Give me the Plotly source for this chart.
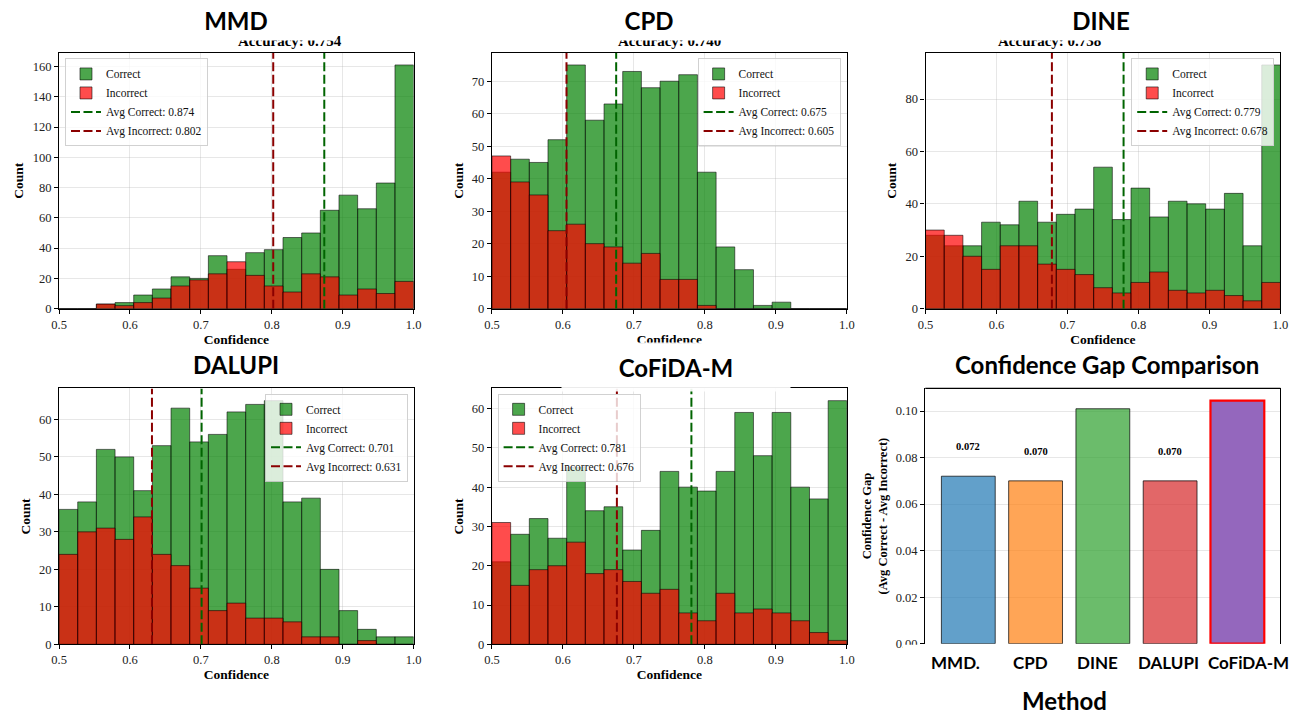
import numpy as np
import plotly.graph_objects as go

W, H = 1299, 717

# ---------------- data ----------------
methods = ["MMD", "CPD", "DINE", "DALUPI", "CoFiDA-M"]
accuracy = [0.754, 0.740, 0.738, None, None]

correct_mmd = [0, 0, 3, 4, 9, 13, 21, 20, 35, 26, 37, 39, 47, 50, 65, 75, 66, 83, 161]
incorrect_mmd = [0, 0, 3, 2, 4, 7, 15, 19, 23, 31, 22, 15, 11, 23, 21, 9, 13, 10, 18]

correct_cpd = [42, 46, 45, 52, 75, 58, 63, 73, 68, 70, 72, 42, 19, 12, 1, 2, 0, 0, 0]
incorrect_cpd = [47, 39, 35, 24, 26, 20, 19, 14, 17, 9, 9, 1, 0, 0, 0, 0, 0, 0, 0]

correct_dine = [28, 24, 24, 33, 32, 41, 33, 36, 38, 54, 34, 46, 35, 41, 40, 38, 44, 24, 93]
incorrect_dine = [30, 28, 20, 15, 24, 24, 17, 15, 13, 8, 6, 10, 14, 7, 6, 7, 5, 3, 10]

correct_dalupi = [36, 38, 52, 50, 41, 53, 63, 54, 56, 62, 64, 65, 38, 39, 20, 9, 4, 2, 2]
incorrect_dalupi = [24, 30, 31, 28, 34, 24, 21, 15, 9, 11, 7, 7, 6, 2, 2, 0, 1, 0, 0]

correct_cofida = [21, 28, 32, 27, 45, 34, 35, 24, 29, 44, 40, 39, 44, 59, 48, 59, 40, 37, 62]
incorrect_cofida = [31, 15, 19, 20, 26, 18, 19, 16, 13, 14, 8, 6, 13, 8, 9, 8, 6, 3, 1]

correct_counts = [correct_mmd, correct_cpd, correct_dine, correct_dalupi, correct_cofida]
incorrect_counts = [incorrect_mmd, incorrect_cpd, incorrect_dine, incorrect_dalupi, incorrect_cofida]

avg_correct = [0.874, 0.675, 0.779, 0.701, 0.781]
avg_incorrect = [0.802, 0.605, 0.678, 0.631, 0.676]

gap_labels = ["MMD.", "CPD", "DINE", "DALUPI", "CoFiDA-M"]
gap_values = [0.072, 0.070, 0.101, 0.070, 0.1045]

n_bins = 19
bin_lo, bin_hi = 0.5, 1.0

# ---------------- styling ----------------
SERIF = "Times New Roman, Liberation Serif, serif"
SANS = "Lato"
GREEN = "rgba(0,128,0,0.7)"
RED = "rgba(255,0,0,0.7)"
EDGE = "rgba(0,0,0,0.7)"
GRID = "rgba(176,176,176,0.3)"
TICKSIZE = 12.5

def px(x):
    return x / W

def py(y):
    return 1 - y / H

# subplot pixel boxes (left, right, top, bottom)
boxes = [
    (51.7, 410.7, 53.3, 311.7),
    (490.0, 849.3, 53.3, 311.7),
    (929.0, 1288.3, 53.3, 311.7),
    (51.7, 410.7, 392.3, 650.7),
    (490.0, 849.3, 392.3, 650.7),
    (928.7, 1288.3, 392.3, 650.0),
]
legend_pos = [
    dict(x=px(57.7), y=py(59), xanchor="left", yanchor="top"),
    dict(x=px(843), y=py(59), xanchor="right", yanchor="top"),
    dict(x=px(1282), y=py(59), xanchor="right", yanchor="top"),
    dict(x=px(405), y=py(397.7), xanchor="right", yanchor="top"),
    dict(x=px(495.7), y=py(397.7), xanchor="left", yanchor="top"),
]
ytick_step = [20, 10, 20, 10, 10]

edges = np.linspace(bin_lo, bin_hi, n_bins + 1)
centers = (edges[:-1] + edges[1:]) / 2
bw = edges[1] - edges[0]

fig = go.Figure()
layout = dict(
    width=W, height=H, margin=dict(l=0, r=0, t=0, b=0),
    paper_bgcolor="white", plot_bgcolor="white",
    barmode="overlay", showlegend=True,
    font=dict(family=SERIF, size=11, color="#111"),
)

annotations = []
shapes = []

for i, m in enumerate(methods):
    k = i + 1
    xs = "" if k == 1 else str(k)
    xref, yref = "x" + xs, "y" + xs
    lg = "legend" + ("" if k == 1 else str(k))
    l, r, t, b = boxes[i]
    ytop = 1.05 * max(max(correct_counts[i]), max(incorrect_counts[i]))

    fig.add_trace(go.Bar(
        x=centers, y=correct_counts[i], width=bw, name="Correct",
        marker=dict(color=GREEN, line=dict(color=EDGE, width=0.8)),
        xaxis=xref, yaxis=yref, legend=lg, hoverinfo="x+y"))
    fig.add_trace(go.Bar(
        x=centers, y=incorrect_counts[i], width=bw, name="Incorrect",
        marker=dict(color=RED, line=dict(color=EDGE, width=0.8)),
        xaxis=xref, yaxis=yref, legend=lg, hoverinfo="x+y"))
    fig.add_trace(go.Scatter(
        x=[avg_correct[i], avg_correct[i]], y=[0, ytop], mode="lines",
        name=f"Avg Correct: {avg_correct[i]:.3f}",
        line=dict(color="darkgreen", width=2, dash="9px,3.5px"),
        xaxis=xref, yaxis=yref, legend=lg))
    fig.add_trace(go.Scatter(
        x=[avg_incorrect[i], avg_incorrect[i]], y=[0, ytop], mode="lines",
        name=f"Avg Incorrect: {avg_incorrect[i]:.3f}",
        line=dict(color="darkred", width=2, dash="9px,3.5px"),
        xaxis=xref, yaxis=yref, legend=lg))

    layout["xaxis" + xs] = dict(
        domain=[px(l), px(r)], anchor=yref, range=[bin_lo, bin_hi],
        tickvals=[0.5, 0.6, 0.7, 0.8, 0.9, 1.0], tickformat=".1f",
        ticks="outside", ticklen=4, tickwidth=1, tickcolor="black",
        showline=True, linecolor="black", linewidth=1.3, mirror=True,
        showgrid=True, gridcolor=GRID, gridwidth=1, zeroline=False,
        tickfont=dict(family=SERIF, size=TICKSIZE, color="#222", weight="normal"),
        title=dict(text="<b>Confidence</b>", font=dict(family=SERIF, size=13.5, color="black"), standoff=2),
    )
    layout["yaxis" + xs] = dict(
        domain=[py(b), py(t)], anchor=xref, range=[0, ytop], dtick=ytick_step[i],
        ticks="outside", ticklen=4, tickwidth=1, tickcolor="black",
        showline=True, linecolor="black", linewidth=1.3, mirror=True,
        showgrid=True, gridcolor=GRID, gridwidth=1, zeroline=False,
        tickfont=dict(family=SERIF, size=TICKSIZE, color="#222", weight="normal"),
        title=dict(text="<b>Count</b>", font=dict(family=SERIF, size=13.5, color="black"), standoff=5),
    )
    layout[lg] = dict(
        **legend_pos[i],
        bgcolor="rgba(255,255,255,0.8)", bordercolor="rgba(204,204,204,0.9)", borderwidth=1,
        font=dict(family=SERIF, size=11.5, color="#111"),
        tracegroupgap=0, itemwidth=30, itemclick=False,
    )

# ---------------- confidence gap bar chart ----------------
gap_colors = ["rgba(31,119,180,0.7)", "rgba(255,127,14,0.7)", "rgba(44,160,44,0.7)",
              "rgba(214,39,40,0.7)", "rgba(148,103,189,1.0)"]
gap_edge = ["rgba(0,0,0,0.7)"] * 4 + ["rgb(255,0,0)"]
gap_edge_w = [1, 1, 1, 1, 2.2]
gap_ytop = 1.05 * max(gap_values)

fig.add_trace(go.Bar(
    x=gap_labels, y=gap_values, width=0.8, showlegend=False,
    marker=dict(color=gap_colors, line=dict(color=gap_edge, width=gap_edge_w)),
    xaxis="x6", yaxis="y6"))

l, r, t, b = boxes[5]
layout["xaxis6"] = dict(
    domain=[px(l), px(r)], anchor="y6", range=[-0.64, 4.64],
    showticklabels=False, ticks="", showline=False, showgrid=False, zeroline=False,
)
layout["yaxis6"] = dict(
    domain=[py(b), py(t)], anchor="x6", range=[0, gap_ytop], dtick=0.02, tickformat=".2f",
    ticks="outside", ticklen=4, tickwidth=1, tickcolor="black",
    showline=True, linecolor="black", linewidth=1.3, mirror=True,
    showgrid=True, gridcolor=GRID, zeroline=False,
    tickfont=dict(family=SERIF, size=TICKSIZE, color="#222", weight="normal"),
    title=dict(text="<b>Confidence Gap<br>(Avg Correct - Avg Incorrect)</b>",
               font=dict(family=SERIF, size=12.5, color="black"), standoff=5),
)
shapes.append(dict(type="line", xref="x6 domain", yref="y6 domain", x0=0, x1=1, y0=1, y1=1,
                   line=dict(color="black", width=1.3)))
# white cover at bottom of the bar chart (as in the original composite)
shapes.append(dict(type="rect", xref="paper", yref="paper", x0=px(906), x1=1, y0=0, y1=py(651),
                   fillcolor="white", line=dict(width=0), layer="above"))

for j, v in enumerate(gap_values):
    if v + 0.01 < gap_ytop:
        annotations.append(dict(x=gap_labels[j], y=v + 0.0095, xref="x6", yref="y6",
                                text=f"<b>{v:.3f}</b>", showarrow=False, yanchor="bottom",
                                font=dict(family=SERIF, size=10.5, color="black")))

label_shift = [-13, -5, -5, -2, 11]
for j, lab in enumerate(gap_labels):
    annotations.append(dict(x=lab, xref="x6", y=py(669), yref="paper", xshift=label_shift[j],
                            text=f"<b>{lab}</b>", showarrow=False, yanchor="middle",
                            font=dict(family=SANS, size=17, color="black")))
annotations.append(dict(x=px(1115), y=py(707), xref="paper", yref="paper", text="<b>Method</b>",
                        showarrow=False, yanchor="middle",
                        font=dict(family=SANS, size=24, color="black")))

# ---------------- titles ----------------
acc_centers = [231, 670, 1108.5]
title_centers = [(231, 18), (649, 18), (1107, 18), (231, 368), (676, 369), (1113, 368)]
for i in range(3):
    annotations.append(dict(x=px(acc_centers[i]), y=py(51), xref="paper", yref="paper",
                            text=f"<b>Accuracy: {accuracy[i]:.3f}</b>", showarrow=False,
                            yanchor="bottom", font=dict(family=SERIF, size=15, color="black")))
panel_titles = methods + ["Confidence Gap Comparison"]
for i, ttl in enumerate(panel_titles):
    cx, cy = title_centers[i]
    a = dict(x=px(cx), y=py(cy), xref="paper", yref="paper", text=f"<b>{ttl}</b>",
             showarrow=False, xanchor="center", yanchor="middle",
             font=dict(family=SANS, size=24, color="black"))
    if i < 3:
        a.update(y=1, yanchor="top", width=200, height=39, bgcolor="white", borderpad=0, valign="middle")
    elif i == 4:
        a.update(y=py(345), yanchor="top", width=228, height=48, bgcolor="rgba(255,255,255,0.92)",
                 borderpad=0, valign="middle")
    annotations.append(a)

layout["annotations"] = annotations
layout["shapes"] = shapes
fig.update_layout(**layout)
fig.write_html("out.html")
